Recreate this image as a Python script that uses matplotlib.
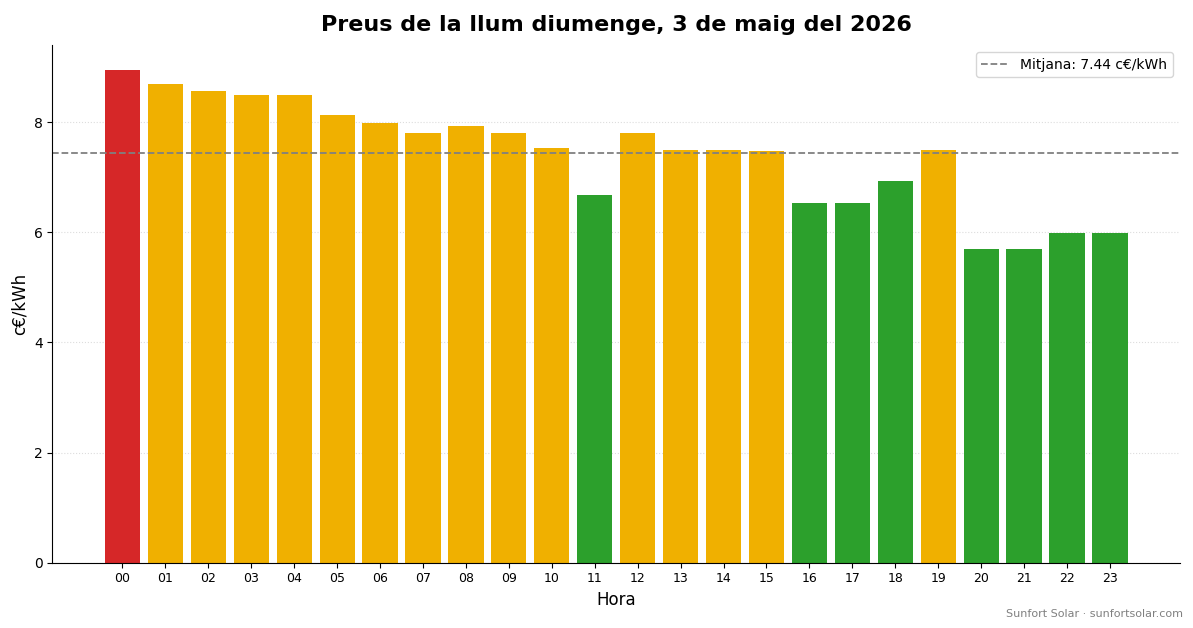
import matplotlib
matplotlib.use("Agg")
import matplotlib.pyplot as plt

# Dades (c€/kWh per hora)
hores = [f"{h:02d}" for h in range(24)]
preus = [8.95, 8.69, 8.57, 8.49, 8.49, 8.13, 7.99, 7.80, 7.93, 7.80, 7.53, 6.68,
         7.80, 7.50, 7.50, 7.48, 6.53, 6.53, 6.93, 7.50, 5.70, 5.70, 5.99, 5.99]
nivells = ["alt"] + ["mig"] * 10 + ["baix"] + ["mig"] * 4 + ["baix"] * 3 + ["mig"] + ["baix"] * 4
mitjana = 7.44

colors_nivell = {"alt": "#d62728", "mig": "#f0b000", "baix": "#2ca02c"}
colors = [colors_nivell[n] for n in nivells]

fig, ax = plt.subplots(figsize=(11.93, 6.28), dpi=100)
fig.subplots_adjust(left=0.044, right=0.989, top=0.928, bottom=0.104)

ax.bar(hores, preus, color=colors, width=0.82)
ax.axhline(mitjana, color="gray", linestyle="--", linewidth=1.3,
           label=f"Mitjana: {mitjana:.2f} c€/kWh")

ax.set_title("Preus de la llum diumenge, 3 de maig del 2026", fontsize=16,
             fontweight="bold", pad=10)
ax.set_xlabel("Hora", fontsize=12)
ax.set_ylabel("c€/kWh", fontsize=12)
ax.tick_params(axis="x", labelsize=9)
ax.set_ylim(0, 9.4)
ax.set_xlim(-1.63, 24.63)
ax.grid(axis="y", linestyle=":", color="#dddddd", linewidth=0.8)
ax.set_axisbelow(True)
ax.spines["top"].set_visible(False)
ax.spines["right"].set_visible(False)
ax.legend(loc="upper right")

fig.text(0.992, 0.015, "Sunfort Solar · sunfortsolar.com", ha="right", va="bottom",
         fontsize=8, color="gray")

plt.savefig("out.png")
plt.close()
